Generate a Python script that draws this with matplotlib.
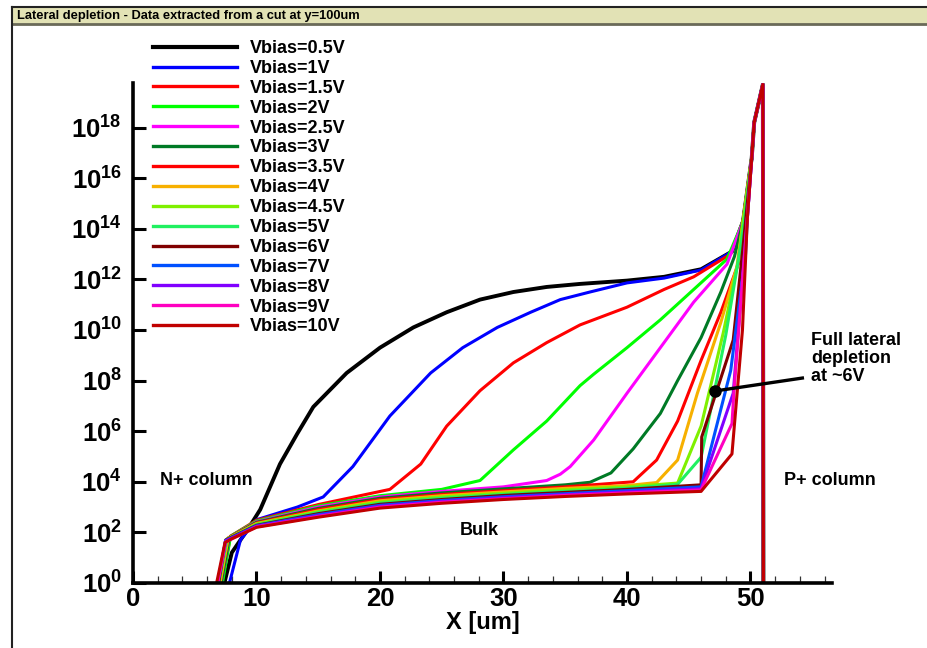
import numpy as np
import matplotlib
matplotlib.use("Agg")
import matplotlib.pyplot as plt
from matplotlib.patches import Rectangle
from matplotlib.lines import Line2D
from matplotlib.ticker import MultipleLocator, NullLocator

plt.rcParams["font.family"] = ["Liberation Sans", "DejaVu Sans"]
plt.rcParams["font.weight"] = "bold"
plt.rcParams["mathtext.fontset"] = "custom"
plt.rcParams["mathtext.rm"] = "Liberation Sans:bold"
plt.rcParams["mathtext.bf"] = "Liberation Sans:bold"
plt.rcParams["mathtext.it"] = "Liberation Sans:bold"

TITLE = "Lateral depletion - Data extracted from a cut at y=100um"

labels = ["Vbias=0.5V", "Vbias=1V", "Vbias=1.5V", "Vbias=2V", "Vbias=2.5V",
          "Vbias=3V", "Vbias=3.5V", "Vbias=4V", "Vbias=4.5V", "Vbias=5V",
          "Vbias=6V", "Vbias=7V", "Vbias=8V", "Vbias=9V", "Vbias=10V"]
colors = ["#000000", "#0000ff", "#ff0000", "#00ff00", "#ff00ff",
          "#007a25", "#ff0000", "#f7b000", "#7ff000", "#20f060",
          "#800000", "#0050ff", "#8000ff", "#ff00c0", "#c00000"]

# each curve: x [um] and log10 of the density
x_05 = [7.2, 8.0, 9.4, 10.3, 11.9, 13.3, 14.6, 17.3, 20.0, 22.7, 25.4, 28.1, 30.8, 33.5, 36.2, 40.0, 43.0, 46.0, 48.5, 49.4]
n_05 = [-0.4, 1.2, 2.2, 2.9, 4.7, 5.9, 6.96, 8.3, 9.3, 10.1, 10.7, 11.2, 11.5, 11.7, 11.82, 11.95, 12.1, 12.4, 13.1, 14.3]
x_1 = [7.6, 8.7, 10.0, 13.3, 15.4, 17.8, 20.8, 24.1, 26.7, 29.5, 32.2, 34.6, 37.0, 40.0, 43.0, 46.0, 48.5, 49.4]
n_1 = [-0.4, 1.7, 2.5, 3.0, 3.4, 4.6, 6.6, 8.3, 9.3, 10.1, 10.7, 11.2, 11.5, 11.86, 12.05, 12.37, 13.1, 14.3]
x_15 = [7.0, 7.9, 10.0, 15.0, 20.8, 23.3, 25.4, 28.1, 30.8, 33.5, 36.2, 40.0, 43.0, 45.4, 48.4, 49.4]
n_15 = [-0.4, 1.85, 2.48, 3.1, 3.7, 4.7, 6.2, 7.6, 8.7, 9.5, 10.2, 10.9, 11.6, 12.1, 13.0, 14.3]
x_2 = [7.1, 7.9, 10.0, 15.0, 20.0, 25.0, 28.1, 30.8, 33.5, 36.2, 37.3, 40.0, 42.7, 45.4, 48.1, 49.4]
n_2 = [-0.4, 1.85, 2.45, 3.05, 3.45, 3.7, 4.05, 5.26, 6.4, 7.8, 8.25, 9.3, 10.4, 11.6, 12.8, 14.3]
x_25 = [7.0, 7.8, 10.0, 15.0, 20.0, 25.0, 30.0, 33.5, 34.6, 35.4, 37.3, 40.0, 42.7, 45.4, 48.1, 49.4]
n_25 = [-0.4, 1.8, 2.42, 3.0, 3.4, 3.62, 3.8, 4.05, 4.3, 4.6, 5.65, 7.5, 9.3, 11.1, 12.6, 14.3]
x_3 = [7.0, 7.8, 10.0, 15.0, 20.0, 25.0, 30.0, 35.0, 37.0, 38.7, 40.5, 42.7, 44.1, 46.0, 47.6, 48.7, 49.4]
n_3 = [-0.4, 1.8, 2.4, 2.95, 3.35, 3.56, 3.72, 3.88, 3.98, 4.35, 5.3, 6.7, 8.0, 9.7, 11.5, 12.9, 14.3]
x_35 = [6.9, 7.7, 10.0, 15.0, 20.0, 25.0, 30.0, 35.0, 40.5, 42.4, 44.1, 46.0, 47.6, 49.0, 49.4]
n_35 = [-0.4, 1.78, 2.37, 2.9, 3.3, 3.5, 3.65, 3.8, 4.0, 4.86, 6.4, 8.8, 10.7, 12.6, 14.3]
x_4 = [6.9, 7.7, 10.0, 15.0, 20.0, 25.0, 30.0, 35.0, 40.0, 42.4, 44.1, 45.7, 47.6, 48.9, 49.4]
n_4 = [-0.4, 1.76, 2.35, 2.85, 3.25, 3.45, 3.6, 3.74, 3.85, 3.97, 4.86, 7.5, 10.3, 12.5, 14.3]
x_45 = [6.8, 7.6, 10.0, 15.0, 20.0, 25.0, 30.0, 35.0, 40.0, 44.1, 46.0, 47.8, 49.0, 49.4]
n_45 = [-0.4, 1.74, 2.33, 2.82, 3.2, 3.4, 3.55, 3.68, 3.8, 3.95, 6.2, 9.9, 12.7, 14.3]
x_5 = [6.8, 7.6, 10.0, 15.0, 20.0, 25.0, 30.0, 35.0, 40.0, 44.1, 46.0, 48.0, 49.2, 49.5]
n_5 = [-0.4, 1.72, 2.3, 2.78, 3.15, 3.35, 3.5, 3.62, 3.74, 3.9, 4.97, 9.8, 13.3, 14.3]
x_6 = [6.8, 7.5, 10.0, 15.0, 20.0, 25.0, 30.0, 35.0, 40.0, 46.0, 46.05, 48.6, 49.4, 49.6]
n_6 = [-0.4, 1.7, 2.28, 2.74, 3.11, 3.3, 3.46, 3.58, 3.7, 3.88, 5.77, 9.6, 13.3, 14.3]
x_7 = [6.7, 7.5, 10.0, 15.0, 20.0, 25.0, 30.0, 35.0, 40.0, 46.0, 48.4, 49.6, 49.75]
n_7 = [-0.4, 1.68, 2.26, 2.7, 3.07, 3.26, 3.41, 3.53, 3.65, 3.8, 8.4, 13.0, 14.45]
x_8 = [6.7, 7.5, 10.0, 15.0, 20.0, 25.0, 30.0, 35.0, 40.0, 46.0, 48.6, 49.75]
n_8 = [-0.4, 1.66, 2.24, 2.66, 3.03, 3.22, 3.37, 3.49, 3.6, 3.73, 7.5, 14.45]
x_9 = [6.7, 7.5, 10.0, 15.0, 20.0, 25.0, 30.0, 35.0, 40.0, 46.0, 48.5, 48.65, 49.75]
n_9 = [-0.4, 1.62, 2.22, 2.63, 3.0, 3.19, 3.33, 3.46, 3.56, 3.68, 6.3, 7.5, 14.45]
x_10 = [6.6, 7.45, 8.0, 10.0, 15.0, 20.0, 25.0, 30.0, 35.0, 40.0, 46.0, 48.5, 49.35, 49.75]
n_10 = [-0.4, 1.6, 1.75, 2.2, 2.6, 2.96, 3.15, 3.3, 3.42, 3.52, 3.62, 5.1, 10.0, 14.45]

# spike into the P+ column shared by all curves
tail_x = [50.1, 50.3, 51.0, 51.05]
tail_n = [16.8, 18.2, 19.7, -1.0]

curves_x = [x_05, x_1, x_15, x_2, x_25, x_3, x_35, x_4, x_45, x_5, x_6, x_7, x_8, x_9, x_10]
curves_n = [n_05, n_1, n_15, n_2, n_25, n_3, n_35, n_4, n_45, n_5, n_6, n_7, n_8, n_9, n_10]

y_tick_exps = [0, 2, 4, 6, 8, 10, 12, 14, 16, 18]
x_ticks = [0, 10, 20, 30, 40, 50]

fig = plt.figure(figsize=(9.28, 6.48), dpi=100)
ax = fig.add_axes([133 / 928, 65 / 648, 699 / 928, 500 / 648])

handles = []
for xs, ns, c, lab in zip(curves_x, curves_n, colors, labels):
    lw = 2.8 if c == "#000000" else 2.2
    x = np.array(xs + tail_x)
    y = 10.0 ** np.array(ns + tail_n)
    ax.plot(x, y, color=c, lw=lw)
    handles.append(Line2D([], [], color=c, lw=lw + 0.2, label=lab))

ax.set_yscale("log")
ax.set_xlim(0, 56.6)
ax.set_ylim(1, 10 ** 19.76)
ax.set_yticks([10.0 ** e for e in y_tick_exps])
ax.set_yticklabels([rf"$10^{{{e}}}$" for e in y_tick_exps], fontsize=18.5)
ax.yaxis.set_minor_locator(NullLocator())
ax.set_xticks(x_ticks)
ax.set_xticklabels([str(t) for t in x_ticks], fontsize=18.5)
ax.xaxis.set_minor_locator(MultipleLocator(2))
ax.tick_params(axis="both", which="major", direction="in", length=9, width=2.2)
ax.tick_params(axis="y", pad=8)
ax.tick_params(axis="x", pad=3)
ax.tick_params(axis="x", which="minor", direction="in", length=5, width=0.9, color="#333333")
for s in ["top", "right"]:
    ax.spines[s].set_visible(False)
for s in ["left", "bottom"]:
    ax.spines[s].set_linewidth(2.6)

ax.set_xlabel("X [um]", fontsize=17, fontweight="bold")
ax.xaxis.set_label_coords(0.5, -0.08)
ax.xaxis.label.set_va("center")

ax.legend(handles=handles, loc="upper left", bbox_to_anchor=(153 / 928, 1 - 40 / 648),
          bbox_transform=fig.transFigure, frameon=False, fontsize=13,
          handlelength=4.65, handletextpad=0.72, labelspacing=0.16,
          borderpad=0, borderaxespad=0)

ax.text(2.2, 10 ** 4.07, "N+ column", fontsize=13, va="center")
ax.text(28.0, 10 ** 2.07, "Bulk", fontsize=13, va="center", ha="center")
ax.text(52.7, 10 ** 4.07, "P+ column", fontsize=13, va="center")
ax.text(54.9, 10 ** 9.9, "Full lateral\ndepletion\nat ~6V", fontsize=13,
        va="top", linespacing=1.05)
ax.plot([47.16, 54.2], [10 ** 7.59, 10 ** 8.1], color="black", lw=2.4, clip_on=False)
ax.plot([47.16], [10 ** 7.59], "o", color="black", ms=8, clip_on=False)

# tecplot-style frame and title bar
fig.add_artist(Rectangle((12 / 928, 1 - 24 / 648), 1, 17 / 648, transform=fig.transFigure,
                         facecolor="#e2e2b5", edgecolor="none"))
fig.add_artist(Line2D([12 / 928, 1], [1 - 7 / 648] * 2, transform=fig.transFigure,
                      color="#222222", lw=1.5))
fig.add_artist(Line2D([12 / 928, 1], [1 - 24 / 648] * 2, transform=fig.transFigure,
                      color="#6a6a58", lw=2))
fig.add_artist(Line2D([12 / 928] * 2, [0, 1 - 7 / 648], transform=fig.transFigure,
                      color="#222222", lw=1.5))
fig.text(17 / 928, 1 - 15.5 / 648, TITLE, fontsize=9.3, va="center")

fig.savefig("out.png", dpi=100)
